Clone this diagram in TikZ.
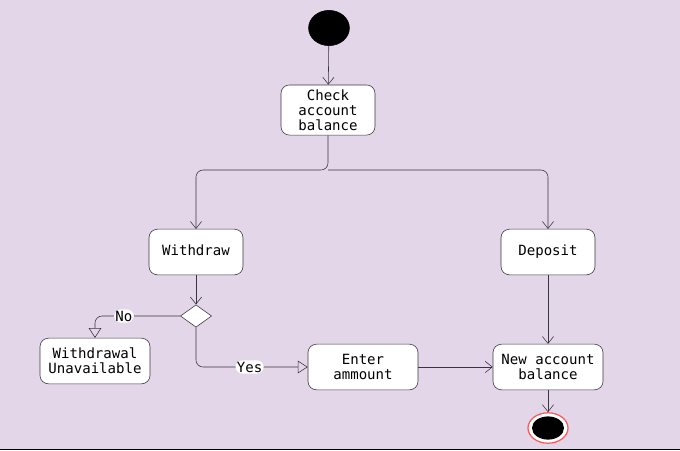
\documentclass[tikz,border=0pt]{standalone}
\usepackage{fontspec}
\setmonofont{DejaVu Sans Mono}
\usetikzlibrary{arrows.meta, shapes.geometric, positioning}
\definecolor{bgpurple}{HTML}{E2D6E8}
\definecolor{lineink}{HTML}{3A3340}
\tikzset{
  actbox/.style={
    rectangle, rounded corners=6pt,
    minimum width=#1, minimum height=1.14cm,
    align=center, font=\ttfamily\fontsize{10}{10.6}\selectfont,
    draw=lineink, fill=white, text=black, thin
  },
  actbox/.default=2.35cm,
  actline/.style={actbox, text height=1.6ex, text depth=0.5ex},
  flowarrow/.style={-{Straight Barb[length=5pt,width=8pt]}, draw=lineink, thin},
  guardarrow/.style={-{Triangle[open,length=7pt,width=9pt]}, draw=lineink, thin,
    rounded corners=5pt},
  guardlbl/.style={fill=white, inner sep=1pt,
    font=\ttfamily\fontsize{10}{10}\selectfont},
  decision/.style={diamond, draw=lineink, fill=white, thin,
    minimum width=0.78cm, minimum height=0.56cm, inner sep=0pt},
  startst/.style={ellipse, fill=black, draw=black,
    minimum width=1.02cm, minimum height=0.88cm},
  endring/.style={ellipse, fill=white, draw=red!65, line width=0.9pt,
    minimum width=1.0cm, minimum height=0.76cm},
  endcore/.style={ellipse, fill=black,
    minimum width=0.8cm, minimum height=0.58cm},
}
\begin{document}
\begin{tikzpicture}[x=0.025cm, y=-0.025cm]
    \useasboundingbox[fill=bgpurple] (0,0) rectangle (680,450);
    \draw[black, line width=1.2pt] (0,449.4) -- (680,449.4);
    % states
    \node[startst] (init) at (329,28) {};
    \node[actbox] (chk) at (328,110) {Check\\account\\balance};
    \node[actline] (wd)  at (196,252) {Withdraw};
    \node[actline] (dep) at (548,252) {Deposit};
    \node[decision] (dec) at (196,316) {};
    \node[actbox=2.75cm] (unav) at (95,361) {Withdrawal\\Unavailable};
    \node[actbox=2.75cm] (amt)  at (363,367) {Enter\\ammount};
    \node[actbox=2.75cm] (nbal) at (548,367) {New account\\balance};
    \node[endring] (fin) at (548,428) {};
    \node[endcore] at (fin) {};
    \coordinate (split) at (328,170);
    % transitions
    \draw[flowarrow] (init) -- (chk);
    \draw[flowarrow, rounded corners=5pt] (chk.south) -- (split) -| (wd.north);
    \draw[flowarrow, rounded corners=5pt] (split) -| (dep.north);
    \draw[flowarrow] (wd) -- (dec);
    \draw[guardarrow] (dec.west) -| node[guardlbl, pos=0.33]{No} (unav.north);
    \draw[guardarrow] (dec.south) |- node[guardlbl, pos=0.74]{Yes} (amt.west);
    \draw[flowarrow] (amt) -- (nbal);
    \draw[flowarrow] (dep) -- (nbal);
    \draw[flowarrow] (nbal) -- (fin);
  \end{tikzpicture}
\end{document}
